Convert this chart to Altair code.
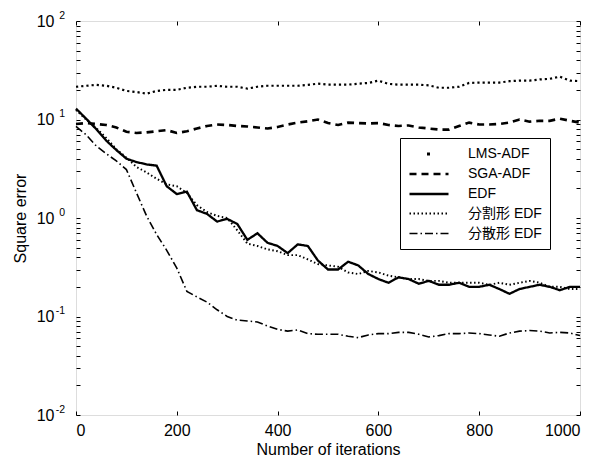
import altair as alt
import pandas as pd

iterations = list(range(0, 1001, 20))

lms_adf = [21.5, 22.0, 22.5, 22.0, 21.0, 19.5, 19.0, 18.3, 19.5, 20.0,
           20.0, 21.0, 21.5, 21.5, 22.0, 21.5, 21.5, 20.6, 21.5, 22.0,
           22.0, 22.0, 22.0, 22.5, 23.1, 22.6, 22.6, 22.6, 23.1, 23.5,
           24.8, 23.0, 22.6, 22.6, 22.6, 22.2, 21.0, 21.0, 21.5, 23.5,
           23.7, 23.7, 23.7, 24.5, 24.8, 24.8, 25.5, 25.9, 27.2, 24.8,
           24.5]
sga_adf = [9.0, 9.2, 9.0, 8.8, 8.3, 7.5, 7.3, 7.4, 7.6, 7.8,
           7.3, 7.6, 8.1, 8.6, 8.9, 8.8, 8.6, 8.5, 8.3, 8.1,
           8.4, 8.9, 9.3, 9.6, 10.0, 9.2, 8.8, 9.3, 9.2, 9.1,
           9.2, 8.8, 8.6, 8.7, 8.3, 8.1, 7.9, 7.9, 8.6, 9.3,
           8.9, 8.9, 9.0, 9.3, 10.0, 9.5, 9.7, 9.7, 10.2, 9.7,
           9.3]
edf = [12.9, 10.2, 8.0, 6.1, 4.9, 4.0, 3.7, 3.5, 3.4, 2.1,
       1.75, 1.85, 1.2, 1.1, 0.92, 0.98, 0.87, 0.6, 0.7, 0.56,
       0.52, 0.44, 0.54, 0.52, 0.37, 0.30, 0.30, 0.36, 0.33, 0.27,
       0.24, 0.22, 0.25, 0.24, 0.215, 0.23, 0.21, 0.21, 0.22, 0.2,
       0.2, 0.21, 0.19, 0.17, 0.19, 0.2, 0.21, 0.2, 0.185, 0.2,
       0.2]
edf_split = [12.5, 10.0, 8.2, 6.5, 5.0, 4.1, 3.3, 2.9, 2.5, 2.2,
             2.1, 1.8, 1.35, 1.15, 1.05, 1.0, 0.75, 0.55, 0.52, 0.48,
             0.46, 0.42, 0.42, 0.38, 0.34, 0.33, 0.32, 0.28, 0.27, 0.29,
             0.28, 0.26, 0.25, 0.24, 0.24, 0.23, 0.23, 0.22, 0.22, 0.22,
             0.22, 0.21, 0.22, 0.21, 0.22, 0.23, 0.22, 0.2, 0.2, 0.19,
             0.19]
edf_dist = [8.5, 7.0, 5.4, 4.5, 3.8, 3.1, 1.8, 1.05, 0.68, 0.47,
            0.31, 0.18, 0.158, 0.14, 0.117, 0.1, 0.092, 0.09, 0.088, 0.08,
            0.074, 0.071, 0.073, 0.067, 0.066, 0.066, 0.066, 0.063, 0.061, 0.065,
            0.067, 0.067, 0.069, 0.069, 0.066, 0.062, 0.064, 0.067, 0.067, 0.068,
            0.067, 0.065, 0.063, 0.068, 0.071, 0.072, 0.071, 0.068, 0.069, 0.068,
            0.064]

series_names = ["LMS-ADF", "SGA-ADF", "EDF", "分割形 EDF", "分散形 EDF"]
x_ticks = [0, 200, 400, 600, 800, 1000]
y_major = [0.01, 0.1, 1, 10, 100]
y_exponents = ["-2", "-1", "0", "1", "2"]

y_all_ticks = []
for e in range(-2, 2):
    for k in range(1, 10):
        y_all_ticks.append(round(k * 10 ** e, 6))
y_all_ticks.append(100)

FONT = "Liberation Sans, Arial, Helvetica, Noto Sans CJK JP, sans-serif"

rows = []
for name, vals in zip(series_names[1:], [sga_adf, edf, edf_split, edf_dist]):
    for it, v in zip(iterations, vals):
        rows.append({"iter": it, "value": v, "series": name})
df = pd.DataFrame(rows)
df_lms = pd.DataFrame({"iter": iterations, "value": lms_adf})
df_ticks = pd.DataFrame({"tick": y_major, "exp": y_exponents})

xscale = alt.Scale(domain=[0, 1000], nice=False, zero=False)
yscale = alt.Scale(type="log", domain=[0.01, 100], nice=False)

dash_range = [[0, 17.5, 3, 1000], [7, 5], [1, 0], [1.5, 2.5], [8, 3, 1.5, 3]]
width_range = [3, 1.6, 1.8, 1.3, 1.6]

legend = alt.Legend(
    title=None, orient="none", legendX=324, legendY=117,
    fillColor="white", strokeColor="black", padding=8,
    symbolType="M-1,0H5", symbolSize=169, symbolStrokeColor="black",
    labelFont=FONT, labelFontSize=14, labelColor="black", labelOffset=44,
    rowPadding=5,
)

lines = alt.Chart(df).mark_line(color="black").encode(
    x=alt.X("iter:Q", scale=xscale,
            axis=alt.Axis(values=x_ticks, format="d", orient="bottom", offset=-4, tickSize=4,
                          domain=False, grid=False, labelPadding=7,
                          labelFontSize=16, labelFont=FONT, labelColor="black",
                          tickColor="black", tickWidth=1,
                          title="Number of iterations", titleFont=FONT,
                          titleFontSize=16, titleFontWeight="normal",
                          titleColor="black", titlePadding=3)),
    y=alt.Y("value:Q", scale=yscale,
            axis=alt.Axis(values=y_all_ticks, orient="left", offset=-4, tickSize=4,
                          domain=False, grid=False, labelPadding=22,
                          labelExpr="abs(log(datum.value)/LN10 - round(log(datum.value)/LN10)) < 0.001 ? '10' : ''",
                          labelOverlap=False, labelFlush=False,
                          labelFontSize=16, labelFont=FONT, labelColor="black",
                          tickColor="black", tickWidth=1,
                          title="Square error", titleFont=FONT,
                          titleFontSize=16, titleFontWeight="normal",
                          titleColor="black", titlePadding=8)),
    strokeDash=alt.StrokeDash("series:N",
                              scale=alt.Scale(domain=series_names, range=dash_range),
                              legend=legend),
    strokeWidth=alt.StrokeWidth("series:N",
                                scale=alt.Scale(domain=series_names, range=width_range),
                                legend=legend),
    detail="series:N",
)

lms = alt.Chart(df_lms).mark_line(color="black", strokeDash=[2.2, 3], strokeWidth=2.2).encode(
    x=alt.X("iter:Q", scale=xscale, axis=None),
    y=alt.Y("value:Q", scale=yscale, axis=None),
)

frame_axes = alt.Chart(df_lms).mark_point(opacity=0).encode(
    x=alt.X("iter:Q", scale=xscale,
            axis=alt.Axis(values=x_ticks, orient="top", offset=-4, tickSize=4,
                          domain=False, grid=False, labels=False, title=None,
                          tickColor="black", tickWidth=1)),
    y=alt.Y("value:Q", scale=yscale,
            axis=alt.Axis(values=y_all_ticks, orient="right", offset=-4, tickSize=4,
                          domain=False, grid=False, labels=False, title=None,
                          tickColor="black", tickWidth=1)),
)

exps = alt.Chart(df_ticks).mark_text(align="right", baseline="middle", dy=-5.5,
                                     fontSize=10.5, font=FONT, color="black").encode(
    x=alt.value(-11),
    y=alt.Y("tick:Q", scale=yscale, axis=None),
    text="exp:N",
)

chart = alt.layer(lines, lms, frame_axes, exps).resolve_axis(
    x="independent", y="independent"
).properties(
    width=504, height=394,
    padding={"left": 68, "top": 13, "right": 19, "bottom": 45},
    autosize=alt.AutoSizeParams(type="none"),
).configure_view(stroke="black", strokeWidth=1.5).configure(background="white")

chart.save("out.html", embed_options={"renderer": "svg", "actions": False})
